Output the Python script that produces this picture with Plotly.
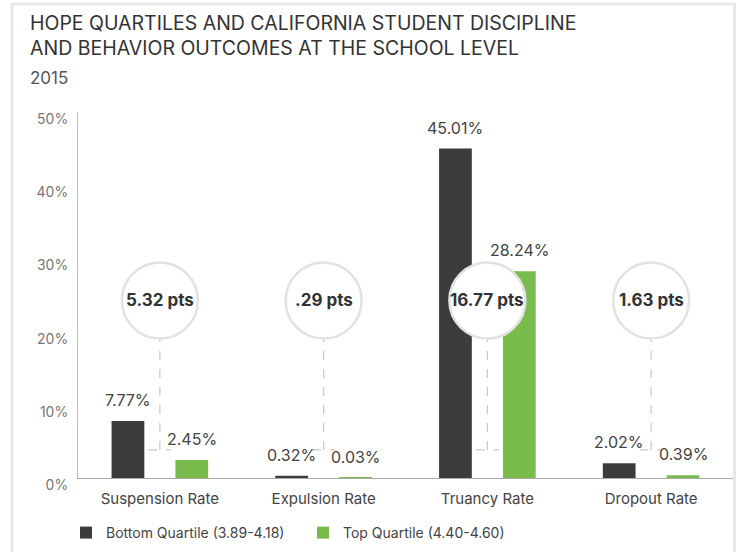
import plotly.graph_objects as go

categories = ["Suspension Rate", "Expulsion Rate", "Truancy Rate", "Dropout Rate"]
bottom_quartile = [7.77, 0.32, 45.01, 2.02]
top_quartile = [2.45, 0.03, 28.24, 0.39]
y_ticks = [0, 10, 20, 30, 40, 50]
series_names = ["Bottom Quartile (3.89-4.18)", "Top Quartile (4.40-4.60)"]

DARK = "#3c3c3c"
GREEN = "#79bc4c"
FONT = "Inter"

W, H = 738, 552
ML, MR, MT, MB = 78, 5, 112, 74
PW, PH = W - ML - MR, H - MT - MB


def px_x(p):
    return (p - ML) / PW


def px_y(p):
    return (H - MB - p) / PH


fig = go.Figure()
fig.add_trace(go.Bar(x=categories, y=bottom_quartile, name=series_names[0],
                     marker=dict(color=DARK, line=dict(width=0)),
                     width=0.2, offset=-0.295, hoverinfo="y"))
fig.add_trace(go.Bar(x=categories, y=top_quartile, name=series_names[1],
                     marker=dict(color=GREEN, line=dict(width=0)),
                     width=0.2, offset=0.095, hoverinfo="y"))

annotations = []
shapes = []
circle_y = 24.25
bracket_y = 3.83
for i, (b, t) in enumerate(zip(bottom_quartile, top_quartile)):
    for xo, v in ((-0.195, b), (0.195, t)):
        annotations.append(dict(x=i + xo, y=v, xref="x", yref="y", text=f"{v:.2f}%",
                                showarrow=False, yanchor="middle", yshift=21,
                                font=dict(family=FONT, size=16, color="#444")))
    diff = f"{b - t:.2f}"
    if diff.startswith("0"):
        diff = diff[1:]
    shapes.append(dict(type="line", xref="x", yref="y", x0=i - 0.07, x1=i + 0.07,
                       y0=bracket_y, y1=bracket_y,
                       line=dict(color="#c8c8c8", width=1.2, dash="dash"), layer="above"))
    shapes.append(dict(type="line", xref="x", yref="y", x0=i, x1=i,
                       ysizemode="pixel", yanchor=bracket_y, y0=0, y1=112,
                       line=dict(color="#c8c8c8", width=1.2, dash="dash"), layer="above"))
    shapes.append(dict(type="circle", xref="x", yref="y",
                       xsizemode="pixel", xanchor=i, x0=-38, x1=38,
                       ysizemode="pixel", yanchor=circle_y, y0=-38, y1=38,
                       fillcolor="white", line=dict(color="#e2e2e2", width=2.5), layer="above"))
    annotations.append(dict(x=i, y=circle_y, xref="x", yref="y", text=f"<b>{diff} pts</b>",
                            showarrow=False, font=dict(family=FONT, size=17, color="#333")))

# card border
shapes.append(dict(type="rect", xref="paper", yref="paper",
                   x0=px_x(12), x1=px_x(734.5), y0=px_y(575), y1=px_y(4),
                   line=dict(color="#e8e8e8", width=3), fillcolor="rgba(0,0,0,0)", layer="below"))

annotations.append(dict(xref="paper", yref="paper", x=px_x(28), y=px_y(9),
                        xanchor="left", yanchor="top", align="left",
                        text="HOPE QUARTILES AND CALIFORNIA STUDENT DISCIPLINE<br>AND BEHAVIOR OUTCOMES AT THE SCHOOL LEVEL",
                        showarrow=False, font=dict(family=FONT, size=19.5, color="#333")))
annotations.append(dict(xref="paper", yref="paper", x=px_x(28), y=px_y(78),
                        xanchor="left", yanchor="middle", text="2015", showarrow=False,
                        font=dict(family=FONT, size=17, color="#555")))

fig.update_layout(
    width=W, height=H,
    margin=dict(l=ML, r=MR, t=MT, b=MB, autoexpand=False),
    paper_bgcolor="white", plot_bgcolor="white",
    barmode="overlay",
    font=dict(family=FONT),
    showlegend=True,
    legend=dict(orientation="h", x=66 / W, y=1 - 533 / H,
                xanchor="left", yanchor="middle", xref="container", yref="container",
                entrywidth=192, entrywidthmode="pixels",
                font=dict(family=FONT, size=14, color="#444")),
    annotations=annotations,
    shapes=shapes,
)
fig.update_xaxes(showline=True, linecolor="#aaa", linewidth=1, ticks="", showgrid=False,
                 automargin=False, ticklabelstandoff=7,
                 tickfont=dict(family=FONT, size=15, color="#444"), fixedrange=True)
fig.update_yaxes(range=[0, 50], tickvals=y_ticks, ticktext=[f"{v}%" for v in y_ticks],
                 showline=True, linecolor="#bbb", linewidth=1, showgrid=False, zeroline=False,
                 automargin=False,
                 ticks="", ticklabelstandoff=6, ticklabelshift=7,
                 tickfont=dict(family=FONT, size=14, color="#777"), fixedrange=True)

fig.write_html("out.html", config={"displayModeBar": False},
               post_script="document.body.style.margin='0';document.body.style.overflow='hidden';")
